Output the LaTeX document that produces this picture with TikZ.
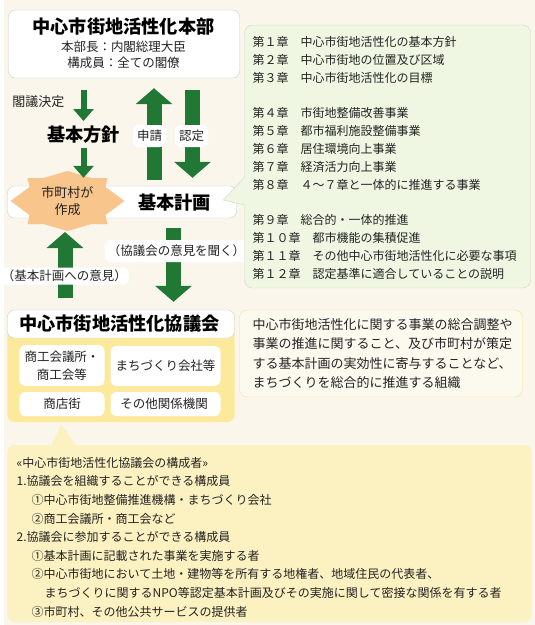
\documentclass[tikz,border=0pt]{standalone}
\usepackage{fontspec}
\setmainfont{Noto Sans CJK JP}
\usepackage{xcolor}
\usepackage{tikz}
\usetikzlibrary{
  arrows.meta,
  calc
}
\definecolor{paper}{RGB}{250, 246, 236}
\definecolor{boxgrey}{RGB}{205, 205, 205}
\definecolor{ink}{RGB}{35, 35, 35}
\definecolor{arrowgreen}{RGB}{33, 120, 52}
\definecolor{chapfill}{RGB}{239, 247, 226}
\definecolor{chapline}{RGB}{205, 215, 195}
\definecolor{councilyellow}{RGB}{253, 233, 155}
\definecolor{memberyellow}{RGB}{252, 241, 193}
\definecolor{descfill}{RGB}{252, 249, 238}
\definecolor{descline}{RGB}{250, 225, 140}
\definecolor{starpeach}{RGB}{248, 197, 140}

\begin{document}
\begin{tikzpicture}[x=1pt, y=-1pt,
  whitebox/.style={draw=boxgrey, fill=white, rounded corners=7pt, inner sep=0pt},
  heading/.style={font=\bfseries\fontsize{18.2}{20}\selectfont, inner sep=0pt, text=black},
  plain/.style={font=\fontsize{12.5}{16}\selectfont, inner sep=0pt, text=ink},
  tag/.style={fill=white, rounded corners=6pt, inner xsep=4pt, inner ysep=4pt, font=\fontsize{12.5}{15}\selectfont, text=ink},
  fatarrow/.style={draw=arrowgreen, line width=15pt, -{Triangle[length=16pt, width=36pt]}},
  thinarrow/.style={draw=arrowgreen, line width=6pt, -{Triangle[length=12pt, width=20pt]}}
]
  \fill[paper] (0,0) rectangle (530,625);

  % headquarters
  \node[whitebox, minimum width=231, minimum height=68] (hq) at (119.5,44) {};
  \node[heading] (hqtitle) at (119,27) {中心市街地活性化本部};
  \node[plain, align=center] (hqmembers) at (119,55) {本部長：内閣総理大臣\\構成員：全ての閣僚};

  \node[plain, font=\fontsize{13}{15}\selectfont] (cabinet) at (34,102) {閣議決定};
  \node[heading] (policy) at (79,135) {基本方針};

  % columns of the big arrows
  \coordinate (upcol) at (149.5,0);
  \coordinate (downcol) at (188,0);
  \coordinate (askcol) at (169,0);
  \coordinate (opcol) at (60.5,0);

  % basic plan with the municipality star
  \node[whitebox, minimum width=229, minimum height=32] (plan) at (117.5,202) {};
  \node[heading] (plantitle) at (170,203) {基本計画};
  \coordinate (mkc) at (63,201);
  \fill[starpeach] ($(mkc)+(-57,0)$)
    \foreach \dx/\dy in {-38/-14, -40/-23, -24/-23, 0/-30, 24/-23, 40/-23, 38/-14, 57/0,
                         38/14, 40/23, 24/23, 0/30, -24/23, -40/23, -38/14} {
      -- ($(mkc)+(\dx,\dy)$)
    } -- cycle;
  \node[plain, align=center, font=\fontsize{13}{17.5}\selectfont] (mk) at (mkc) {市町村が\\作成};

  \draw[thinarrow, shorten <=11.5pt, shorten >=5pt] (hq.south -| policy.north) -- (policy.north);
  \draw[thinarrow, shorten <=4pt, shorten >=8pt] (policy.south) -- (plan.north -| policy.south);

  \draw[fatarrow, shorten <=6pt, shorten >=10pt] (plan.north -| upcol) -- (hq.south -| upcol);
  \draw[fatarrow, shorten <=11.5pt, shorten >=8pt] (hq.south -| downcol) -- (plan.north -| downcol);
  \node[tag, minimum height=22] (apply) at (145,136) {申請};
  \node[tag, minimum height=22] (approve) at (187,136) {認定};

  % council
  \node[fill=councilyellow, rounded corners=7pt, minimum width=227, minimum height=112, inner sep=0pt] (council) at (116.5,366) {};
  \node[whitebox, minimum width=227, minimum height=28] (ctitle) at (116.5,324) {};
  \node[heading] (ctitletext) at (115,324) {中心市街地活性化協議会};
  \foreach \nm/\px/\py/\bw/\bh/\txt in {
    m1/57.5/365.5/85/41/{商工会議所・\\商工会等},
    m2/161/366/110/40/{まちづくり会社等},
    m3/57.5/404/85/24/{商店街},
    m4/161/404/110/24/{その他関係機関}
  } {
    \node[fill=white, rounded corners=6pt, minimum width=\bw, minimum height=\bh, inner sep=0pt,
          align=center, font=\fontsize{12.5}{18}\selectfont, text=ink] (\nm) at (\px,\py) {\txt};
  }

  \draw[fatarrow, shorten <=10pt, shorten >=8pt] (plan.south -| askcol) -- (ctitle.north -| askcol);
  \draw[fatarrow, shorten <=12pt, shorten >=31pt] (ctitle.north -| opcol) -- (mk.center -| opcol);
  \node[tag, inner xsep=3pt, inner ysep=3pt, minimum height=22] (askopinion) at (172,251) {（協議会の意見を聞く）};
  \node[tag, inner xsep=2pt, inner ysep=2pt, minimum height=17] (opinion) at (60,276) {（基本計画への意見）};

  % chapters of the basic plan
  \node[draw=chapline, fill=chapfill, rounded corners=8pt, minimum width=286, minimum height=263, inner sep=0pt] (chap) at (383,156.5) {};
  \fill[chapfill] (242,176) -- (219,200) -- (242,206) -- cycle;
  \draw[chapline] (240,177) -- (219,200) -- (240,205);
  \node[anchor=north west, inner sep=0pt, align=left, font=\fontsize{12}{18}\selectfont, text=ink] (chaptext) at (248,36.5) {%
    第１章　中心市街地活性化の基本方針\\
    第２章　中心市街地の位置及び区域\\
    第３章　中心市街地活性化の目標\\[17pt]
    第４章　市街地整備改善事業\\
    第５章　都市福利施設整備事業\\
    第６章　居住環境向上事業\\
    第７章　経済活力向上事業\\
    第８章　４～７章と一体的に推進する事業\\[17pt]
    第９章　総合的・一体的推進\\
    第１０章　都市機能の集積促進\\
    第１１章　その他中心市街地活性化に必要な事項\\
    第１２章　認定基準に適合していることの説明};

  % role of the council
  \node[draw=descline, fill=descfill, rounded corners=8pt, minimum width=283, minimum height=87, inner sep=0pt] (desc) at (376.5,353.5) {};
  \node[anchor=north west, inner sep=0pt, align=left, font=\fontsize{13}{19.3}\selectfont, text=ink] (desctext) at (248,318.5) {%
    中心市街地活性化に関する事業の総合調整や\\
    事業の推進に関すること、及び市町村が策定\\
    する基本計画の実効性に寄与することなど、\\
    まちづくりを総合的に推進する組織};

  % members of the council
  \node[fill=memberyellow, rounded corners=7pt, minimum width=524, minimum height=177, inner sep=0pt] (members) at (265,533.5) {};
  \fill[memberyellow] (46,447) -- (57,424) -- (72,447) -- cycle;
  \node[anchor=north west, inner sep=0pt, align=left, font=\fontsize{12}{18.6}\selectfont, text=ink] (membertext) at (12,457) {%
    «中心市街地活性化協議会の構成者»\\
    1.協議会を組織することができる構成員\\
    \hspace*{15pt}①中心市街地整備推進機構・まちづくり会社\\
    \hspace*{15pt}②商工会議所・商工会など\\
    2.協議会に参加することができる構成員\\
    \hspace*{15pt}①基本計画に記載された事業を実施する者\\
    \hspace*{15pt}②中心市街地において土地・建物等を所有する地権者、地域住民の代表者、\\
    \hspace*{28pt}まちづくりに関するNPO等認定基本計画及びその実施に関して密接な関係を有する者\\
    \hspace*{15pt}③市町村、その他公共サービスの提供者};
\end{tikzpicture}
\end{document}
